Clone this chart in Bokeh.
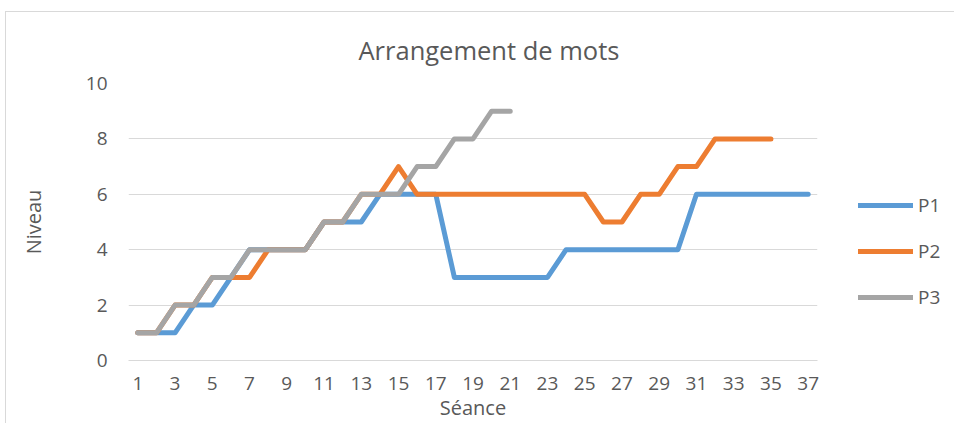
from bokeh.plotting import figure
from bokeh.models import Legend, LegendItem, FixedTicker, Range1d
from bokeh.embed import file_html
from bokeh.resources import INLINE

# ---- data ----
seances_p1 = [1, 2, 3, 4, 5, 6, 7, 8, 9, 10, 11, 12, 13, 14, 15, 16, 17, 18, 19,
              20, 21, 22, 23, 24, 25, 26, 27, 28, 29, 30, 31, 32, 33, 34, 35, 36, 37]
niveau_p1 = [1, 1, 1, 2, 2, 3, 4, 4, 4, 4, 5, 5, 5, 6, 6, 6, 6, 3, 3,
             3, 3, 3, 3, 4, 4, 4, 4, 4, 4, 4, 6, 6, 6, 6, 6, 6, 6]

seances_p2 = [1, 2, 3, 4, 5, 6, 7, 8, 9, 10, 11, 12, 13, 14, 15, 16, 17, 18, 19,
              20, 21, 22, 23, 24, 25, 26, 27, 28, 29, 30, 31, 32, 33, 34, 35]
niveau_p2 = [1, 1, 2, 2, 3, 3, 3, 4, 4, 4, 5, 5, 6, 6, 7, 6, 6, 6, 6,
             6, 6, 6, 6, 6, 6, 5, 5, 6, 6, 7, 7, 8, 8, 8, 8]

seances_p3 = [1, 2, 3, 4, 5, 6, 7, 8, 9, 10, 11, 12, 13, 14, 15, 16, 17, 18, 19, 20, 21]
niveau_p3 = [1, 1, 2, 2, 3, 3, 4, 4, 4, 4, 5, 5, 6, 6, 6, 7, 7, 8, 8, 9, 9]

x_ticks = [1, 3, 5, 7, 9, 11, 13, 15, 17, 19, 21, 23, 25, 27, 29, 31, 33, 35, 37]
y_ticks = [0, 2, 4, 6, 8, 10]

series_names = ["P1", "P2", "P3"]
series_colors = ["#5B9BD5", "#ED7D31", "#A5A5A5"]

FONT = "Open Sans"
TXT = "#595959"
GRID = "#D9D9D9"

p = figure(frame_width=689, frame_height=277, output_backend="svg", toolbar_location=None,
           x_range=Range1d(0.5, 37.5), y_range=Range1d(0, 10),
           min_border_left=128, min_border_right=130,
           min_border_top=83, min_border_bottom=62)
p.outline_line_color = None
p.background_fill_color = "white"
p.border_fill_alpha = 0
p.styles = {
    "background": ("linear-gradient(#D9D9D9,#D9D9D9) 5px 11px / 949px 1px no-repeat, "
                   "linear-gradient(#D9D9D9,#D9D9D9) 5px 11px / 1px 414px no-repeat, white"),
}

p.title.text = "Arrangement de mots"
p.title.align = "left"
p.title.offset = 230
p.title.text_font = FONT
p.title.text_font_size = "25.5px"
p.title.text_font_style = "normal"
p.title.text_color = TXT
p.title.standoff = 34

# axes
p.xaxis.ticker = FixedTicker(ticks=x_ticks)
p.yaxis.ticker = FixedTicker(ticks=y_ticks)
for ax in (p.xaxis, p.yaxis):
    ax.major_tick_line_color = None
    ax.minor_tick_line_color = None
    ax.major_label_text_font = FONT
    ax.major_label_text_font_size = "19px"
    ax.major_label_text_color = TXT
    ax.axis_label_text_font = FONT
    ax.axis_label_text_font_size = "20px"
    ax.axis_label_text_font_style = "normal"
    ax.axis_label_text_color = TXT
p.xaxis.axis_label = "Séance"
p.yaxis.axis_label = "Niveau"
p.xaxis.axis_line_color = GRID
p.xaxis.axis_line_width = 1
p.yaxis.axis_line_color = None
p.xaxis.major_label_standoff = 10
p.yaxis.major_label_standoff = 15
p.xaxis.axis_label_standoff = 1
p.yaxis.axis_label_standoff = 36

p.xgrid.grid_line_color = None
p.ygrid.grid_line_color = GRID
p.ygrid.grid_line_width = 1

renderers = []
for xs, ys, c in ((seances_p1, niveau_p1, series_colors[0]),
                  (seances_p2, niveau_p2, series_colors[1]),
                  (seances_p3, niveau_p3, series_colors[2])):
    r = p.line(xs, ys, line_color=c, line_width=5, line_cap="round", line_join="round")
    renderers.append(r)

legend = Legend(items=[LegendItem(label=n, renderers=[r]) for n, r in zip(series_names, renderers)],
                location=(41, 50), orientation="vertical")
legend.glyph_width = 55
legend.glyph_height = 20
legend.label_height = 20
legend.spacing = 20
legend.padding = 0
legend.margin = 0
legend.label_standoff = 5
legend.label_text_font = FONT
legend.label_text_font_size = "19px"
legend.label_text_color = TXT
legend.border_line_color = None
legend.background_fill_alpha = 0
p.add_layout(legend, "right")

open("out.html", "w").write(file_html(p, INLINE))
